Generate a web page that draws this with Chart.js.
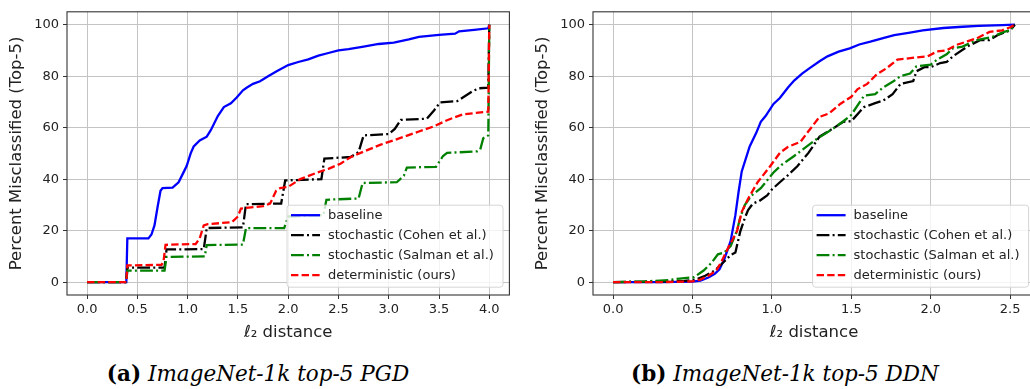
<!DOCTYPE html>
<html>
<head>
<meta charset="utf-8">
<script src="https://cdn.jsdelivr.net/npm/chart.js@4"></script>
<style>
  html, body { margin: 0; padding: 0; background: #fff; overflow: hidden; width: 1030px; height: 389px; }
  .box { position: absolute; top: 0; height: 345px; }
  .cap { position: absolute; top: 361px; font-family: "DejaVu Serif", serif; font-size: 21.5px; color: #000; white-space: nowrap; transform: translateX(-50%); }
  .cap b { font-weight: bold; }
  .cap i { font-style: italic; }
</style>
</head>
<body>
<div class="box" style="left:0; width:520px;"><canvas id="chartA"></canvas></div>
<div class="box" style="left:526px; width:520px;"><canvas id="chartB"></canvas></div>
<div class="cap" style="left:258px;"><b>(a)</b> <i>ImageNet-1k top-5 PGD</i></div>
<div class="cap" style="left:785px;"><b>(b)</b> <i>ImageNet-1k top-5 DDN</i></div>
<script>
var seriesNames = ["baseline", "stochastic (Cohen et al.)", "stochastic (Salman et al.)", "deterministic (ours)"];
var yTicks = [0, 20, 40, 60, 80, 100];
var xTicksA = [0, 0.5, 1.0, 1.5, 2.0, 2.5, 3.0, 3.5, 4.0];
var xTicksB = [0, 0.5, 1.0, 1.5, 2.0, 2.5];

// (a) PGD  [l2 distance, percent]
var pgdBaseline = [[0,0],[0.39,0],[0.4,17],[0.61,17],[0.64,18.5],[0.67,22],[0.7,29],[0.73,35.5],[0.75,36.5],[0.85,36.7],[0.91,38.8],[0.97,43.5],[0.99,45.1],[1.03,50],[1.06,52.7],[1.12,55],[1.19,56.5],[1.23,59],[1.3,64.5],[1.36,68],[1.43,69.5],[1.49,71.8],[1.55,74.5],[1.59,75.6],[1.65,77],[1.72,78],[1.8,80],[1.89,82],[2.0,84.3],[2.1,85.5],[2.2,86.5],[2.3,88],[2.4,89],[2.5,90],[2.6,90.5],[2.75,91.5],[2.9,92.5],[3.05,93],[3.2,94.3],[3.3,95.3],[3.5,96],[3.66,96.5],[3.7,97.4],[3.85,98],[3.99,98.6],[4.0,100]];
var pgdCohen = [[0,0],[0.39,0],[0.4,5.6],[0.77,5.6],[0.79,12.7],[1.16,12.8],[1.19,21],[1.55,21.3],[1.58,30.3],[1.93,30.5],[1.97,39.5],[2.33,40],[2.36,48],[2.62,48.6],[2.7,50.5],[2.75,57],[3.0,57.5],[3.06,59.5],[3.12,63],[3.38,63.5],[3.45,66.7],[3.51,69.8],[3.68,70.3],[3.84,74.3],[3.9,75.3],[3.99,75.5],[4.0,100]];
var pgdSalman = [[0,0],[0.39,0],[0.4,4.5],[0.77,4.5],[0.79,9.8],[1.17,10],[1.19,14.4],[1.55,14.6],[1.58,21],[1.96,21],[2.0,25.5],[2.35,26],[2.38,32],[2.7,32.5],[2.74,38.5],[3.08,38.8],[3.15,41.3],[3.18,44.5],[3.47,44.8],[3.54,49],[3.58,50.2],[3.88,50.8],[3.91,51.5],[3.94,55.9],[3.99,57],[4.0,100]];
var pgdDeterministic = [[0,0],[0.39,0],[0.4,6.5],[0.74,6.7],[0.76,8],[0.78,14.5],[1.08,14.8],[1.12,17],[1.16,22],[1.2,22.5],[1.44,23.3],[1.5,25.5],[1.53,28.6],[1.75,29.5],[1.82,30.5],[1.88,35.5],[1.92,36.5],[2.0,37],[2.12,40],[2.29,42.6],[2.4,44],[2.52,46],[2.62,48.5],[2.72,50.2],[2.92,53.4],[3.11,55.9],[3.3,58.5],[3.45,60.5],[3.58,62.9],[3.74,65.2],[3.99,66.2],[4.0,100]];

// (b) DDN
var ddnBaseline = [[0,0],[0.3,0],[0.5,0.2],[0.55,0.6],[0.6,1.8],[0.64,3.2],[0.67,5],[0.7,8.9],[0.74,15.9],[0.77,26],[0.79,35],[0.81,43],[0.86,52.7],[0.9,57.8],[0.93,62.3],[0.96,64.5],[1.01,69.2],[1.05,71.5],[1.1,75.5],[1.14,78.3],[1.19,81],[1.24,83.2],[1.3,85.8],[1.35,87.7],[1.42,89.5],[1.49,90.8],[1.55,92.3],[1.62,93.4],[1.7,94.8],[1.77,95.9],[1.86,96.8],[1.95,97.8],[2.08,98.7],[2.2,99.2],[2.3,99.5],[2.45,99.8],[2.53,100]];
var ddnCohen = [[0,0],[0.3,0.2],[0.45,0.5],[0.52,1],[0.58,2.5],[0.64,4.5],[0.7,8],[0.74,10.5],[0.77,11.5],[0.8,19.5],[0.83,25],[0.85,28],[0.88,30.5],[0.92,31.5],[0.97,33.7],[1.0,36],[1.05,38.8],[1.1,41.5],[1.16,45],[1.23,50.2],[1.3,56.5],[1.38,59.5],[1.45,62.3],[1.5,62.5],[1.55,66],[1.58,68],[1.65,69.5],[1.7,70.5],[1.76,73],[1.81,77],[1.89,78.1],[1.91,81.9],[1.96,83.5],[2.0,83.5],[2.06,85.1],[2.1,85.5],[2.14,87.7],[2.23,91.5],[2.31,94],[2.37,94],[2.42,95.9],[2.5,97.8],[2.53,100]];
var ddnSalman = [[0,0],[0.2,0.3],[0.35,0.8],[0.42,1.4],[0.51,1.9],[0.57,4.5],[0.62,7.5],[0.66,10.8],[0.7,11.5],[0.74,14],[0.78,20],[0.8,25],[0.83,30],[0.87,33.5],[0.93,36.5],[1.01,42.6],[1.06,45.5],[1.14,49],[1.22,52.7],[1.28,55.5],[1.37,59],[1.45,62.5],[1.5,65],[1.58,72.4],[1.65,73],[1.7,75.6],[1.76,77.8],[1.81,80],[1.87,81],[1.91,83.8],[2.0,84.5],[2.04,86.4],[2.1,88.5],[2.14,90.8],[2.2,91.5],[2.29,94],[2.39,95.3],[2.46,97.2],[2.5,97.8],[2.53,100]];
var ddnDeterministic = [[0,0],[0.3,0],[0.5,0.3],[0.55,1],[0.6,2.5],[0.65,4.5],[0.685,8.3],[0.73,14],[0.78,19.7],[0.81,27.3],[0.85,32.4],[0.91,38.8],[0.99,45.1],[1.05,50.2],[1.1,52.5],[1.18,54.5],[1.22,57.8],[1.3,64.2],[1.36,65.5],[1.43,69.2],[1.5,72],[1.54,75],[1.6,77],[1.66,80.7],[1.72,83],[1.79,86.4],[1.9,87.2],[1.98,87.7],[2.04,89.6],[2.1,90],[2.16,92.1],[2.23,93.5],[2.29,94.7],[2.37,97.2],[2.45,97.8],[2.5,99],[2.53,100]];

var colors = ["#0000ff", "#000000", "#008000", "#ff0000"];
var dashes = [[], [12.8, 3.2, 2, 3.2], [12.8, 3.2, 2, 3.2], [7.4, 3.2]];
var LW = 2.3;

function toPts(arr) {
    return arr.map(function (p) { return { x: p[0], y: p[1] }; });
}

function makeSets(list) {
    return list.map(function (arr, i) {
        return {
            label: seriesNames[i],
            data: toPts(arr),
            borderColor: colors[i],
            backgroundColor: colors[i],
            borderWidth: LW,
            borderDash: dashes[i],
            pointRadius: 0,
            tension: 0,
            fill: false,
            order: 4 - i
        };
    });
}

// frame round the plot area + legend box in the lower right corner
var framePlugin = {
    id: 'frameLegend',
    afterDraw: function (chart) {
        var ctx = chart.ctx, a = chart.chartArea;
        ctx.save();
        ctx.strokeStyle = '#333';
        ctx.lineWidth = 1.1;
        ctx.strokeRect(a.left, a.top, a.right - a.left, a.bottom - a.top);

        var bw = 216, bh = 82;
        var bx = a.right - 6.4 - bw, by = a.bottom - 7.8 - bh;
        ctx.beginPath();
        ctx.roundRect(bx, by, bw, bh, 3);
        ctx.fillStyle = 'rgba(255,255,255,0.8)';
        ctx.fill();
        ctx.strokeStyle = '#d6d6d6';
        ctx.lineWidth = 1;
        ctx.stroke();

        ctx.font = '13px "DejaVu Sans"';
        ctx.textBaseline = 'middle';
        chart.data.datasets.forEach(function (ds, i) {
            var yy = by + 10 + i * 20;
            ctx.beginPath();
            ctx.setLineDash(dashes[i]);
            ctx.strokeStyle = colors[i];
            ctx.lineWidth = LW;
            ctx.moveTo(bx + 4, yy);
            ctx.lineTo(bx + 33, yy);
            ctx.stroke();
            ctx.setLineDash([]);
            ctx.fillStyle = '#222';
            ctx.fillText(ds.label, bx + 41, yy);
        });
        ctx.restore();
    }
};

function geraGrafico(id, sets, xmin, xmax, xTicks, padRight) {
    return new Chart(document.getElementById(id), {
        type: 'line',
        data: { datasets: makeSets(sets) },
        plugins: [framePlugin],
        options: {
            responsive: true,
            maintainAspectRatio: false,
            animation: false,
            events: [],
            layout: { padding: { left: 0, top: 6.2, right: padRight, bottom: 0 } },
            plugins: { legend: { display: false }, tooltip: { enabled: false } },
            scales: {
                x: {
                    type: 'linear',
                    min: xmin,
                    max: xmax,
                    afterBuildTicks: function (s) { s.ticks = xTicks.map(function (v) { return { value: v }; }); },
                    afterFit: function (s) { s.height = 50; },
                    border: { display: false },
                    grid: { color: '#c4c4c4', lineWidth: 1, tickColor: '#333', tickLength: 4 },
                    ticks: {
                        color: '#222', font: { family: 'DejaVu Sans', size: 13 }, padding: 3, maxRotation: 0,
                        callback: function (v) { return v.toFixed(1); }
                    },
                    title: { display: true, text: 'ℓ₂ distance', color: '#222', font: { family: 'DejaVu Sans', size: 16.5 }, padding: { top: 0, bottom: 2.5 } }
                },
                y: {
                    min: -5,
                    max: 105,
                    afterBuildTicks: function (s) { s.ticks = yTicks.map(function (v) { return { value: v }; }); },
                    afterFit: function (s) { s.width = 67; },
                    border: { display: false },
                    grid: { color: '#c4c4c4', lineWidth: 1, tickColor: '#333', tickLength: 4 },
                    ticks: { color: '#222', font: { family: 'DejaVu Sans', size: 13 }, padding: 4 },
                    title: { display: true, text: 'Percent Misclassified (Top-5)', color: '#222', font: { family: 'DejaVu Sans', size: 16.5 }, padding: { top: 6.4, bottom: 0 } }
                }
            }
        }
    });
}

geraGrafico('chartA', [pgdBaseline, pgdCohen, pgdSalman, pgdDeterministic], -0.2, 4.2, xTicksA, 10.6);
geraGrafico('chartB', [ddnBaseline, ddnCohen, ddnSalman, ddnDeterministic], -0.1265, 2.6565, xTicksB, 11);
</script>
</body>
</html>
